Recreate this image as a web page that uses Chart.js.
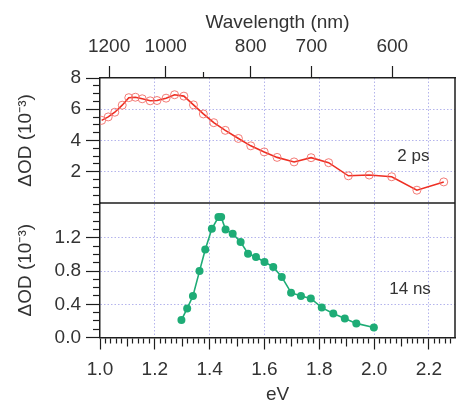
<!DOCTYPE html>
<html>
<head>
<meta charset="utf-8">
<script src="https://cdn.jsdelivr.net/npm/chart.js@4/dist/chart.umd.min.js"></script>
<style>
  html, body { margin: 0; padding: 0; background: #fff; }
  #c { display: block; }
</style>
</head>
<body>
<canvas id="c" width="460" height="405"></canvas>
<script>
// Transient absorption spectra: photon energy (eV) against ΔOD (10^-3)
const energy2ps = [1.006, 1.030, 1.054, 1.081, 1.105, 1.129, 1.154, 1.183, 1.208, 1.241,
                   1.272, 1.306, 1.341, 1.377, 1.415, 1.457, 1.505, 1.550, 1.599, 1.646,
                   1.708, 1.770, 1.834, 1.906, 1.982, 2.064, 2.156, 2.254];
const deltaOD2ps = [5.29, 5.51, 5.81, 6.26, 6.74, 6.77, 6.67, 6.54, 6.56, 6.71,
                    6.93, 6.84, 6.28, 5.70, 5.14, 4.65, 4.13, 3.66, 3.27, 2.92,
                    2.63, 2.90, 2.58, 1.74, 1.79, 1.68, 0.82, 1.35];

const energy14ns = [1.297, 1.318, 1.339, 1.363, 1.384, 1.408, 1.432, 1.442, 1.458, 1.484,
                    1.513, 1.540, 1.569, 1.600, 1.632, 1.663, 1.697, 1.733, 1.769, 1.809,
                    1.851, 1.893, 1.935, 1.999];
const deltaOD14ns = [0.21, 0.35, 0.50, 0.80, 1.06, 1.31, 1.45, 1.45, 1.30, 1.25,
                     1.15, 1.01, 0.97, 0.91, 0.85, 0.73, 0.54, 0.50, 0.47, 0.36,
                     0.29, 0.23, 0.17, 0.12];

const energyTickLabels = [1.0, 1.2, 1.4, 1.6, 1.8, 2.0, 2.2];
const wavelengthTicks = [1200, 1000, 800, 700, 600];
const wavelengthMinorTicks = [900];
const topPanelTicks = [2, 4, 6, 8];
const bottomPanelTicks = [0.0, 0.4, 0.8, 1.2];
const panelLabels = ['2 ps', '14 ns'];

const HC = 1239.84;            // eV·nm, converts wavelength to photon energy
const E_MIN = 1.0, E_MAX = 2.295;

const FONT = '"Liberation Sans", Arial, Helvetica, sans-serif';
const TEXT = '#333333';
const AXIS = '#1e1e1e';
const GRID = '#b4b4ec';
const RED = 'rgb(238, 46, 34)';
const RED_MARK = 'rgba(242, 110, 104, 0.9)';
const GREEN = 'rgb(30, 172, 118)';
const NONE = 'rgba(0,0,0,0)';

function stepTicks(min, max, step) {
  const out = [];
  const n = Math.round((max - min) / step);
  for (let i = 0; i <= n; i++) out.push(+(min + i * step).toFixed(4));
  return out;
}
const isOn = (v, list) => list.some(t => Math.abs(t - v) < 1e-6);
const toPoints = (xs, ys) => xs.map((x, i) => ({ x, y: ys[i] }));

// outward tick marks: ticks on left/top axes are drawn from the outer end toward the axis
function tickDash(isMajor, len, full, fromAxis) {
  if (isMajor) return [];
  return fromAxis ? [len, 60] : [len, full - len];
}

const titleFont = { size: 19, family: FONT, lineHeight: 1 };
const tickFont = { size: 19, family: FONT };
const axisBorder = { color: AXIS, width: 1.5, dash: [1.5, 2] };

// draws the closing frame: right edge and the line between the panels
const framePlugin = {
  id: 'frame',
  beforeDatasetsDraw(chart) {
    const { ctx, chartArea: a, scales } = chart;
    ctx.save();
    ctx.strokeStyle = AXIS;
    ctx.lineWidth = 1.5;
    ctx.setLineDash([]);
    ctx.beginPath();
    ctx.moveTo(a.right, a.top);
    ctx.lineTo(a.right, a.bottom);
    const ySep = scales.yTop.getPixelForValue(0);
    ctx.moveTo(a.left, ySep);
    ctx.lineTo(a.right, ySep);
    ctx.stroke();
    ctx.restore();
  }
};

// delay-time labels inside each panel
const panelLabelPlugin = {
  id: 'panelLabels',
  afterDatasetsDraw(chart) {
    const { ctx, scales } = chart;
    ctx.save();
    ctx.fillStyle = TEXT;
    ctx.font = '17px ' + FONT;
    ctx.textAlign = 'center';
    ctx.textBaseline = 'middle';
    ctx.fillText(panelLabels[0], scales.x.getPixelForValue(2.143), scales.yTop.getPixelForValue(3.0));
    ctx.fillText(panelLabels[1], scales.x.getPixelForValue(2.131), scales.yBot.getPixelForValue(0.584));
    ctx.restore();
  }
};

new Chart(document.getElementById('c'), {
  type: 'line',
  data: {
    datasets: [
      {
        label: '2 ps',
        data: toPoints(energy2ps, deltaOD2ps),
        xAxisID: 'x',
        yAxisID: 'yTop',
        borderColor: RED,
        borderWidth: 1.6,
        pointRadius: 4,
        pointBorderWidth: 1,
        pointBorderColor: RED_MARK,
        pointBackgroundColor: 'rgba(255,255,255,0)',
        tension: 0
      },
      {
        label: '14 ns',
        data: toPoints(energy14ns, deltaOD14ns),
        xAxisID: 'x',
        yAxisID: 'yBot',
        borderColor: GREEN,
        borderWidth: 1.6,
        pointRadius: 4,
        pointBorderWidth: 0,
        pointBackgroundColor: GREEN,
        tension: 0
      }
    ]
  },
  options: {
    responsive: false,
    animation: false,
    devicePixelRatio: 1,
    layout: { padding: { left: 0, right: 2, top: 0, bottom: 0 } },
    plugins: { legend: { display: false }, tooltip: { enabled: false } },
    scales: {
      x: {
        type: 'linear',
        position: 'bottom',
        min: E_MIN,
        max: E_MAX,
        afterBuildTicks: s => { s.ticks = stepTicks(1.0, 2.28, 0.02).map(v => ({ value: v })); },
        afterFit: s => { s.height = 67.5; },
        border: axisBorder,
        grid: {
          color: c => (isOn(c.tick.value, energyTickLabels) && c.tick.value > 1.001) ? GRID : NONE,
          lineWidth: 1,
          tickLength: 12,
          tickWidth: 1.2,
          tickColor: AXIS,
          tickBorderDash: c => {
            const v = c.tick.value;
            if (isOn(v, energyTickLabels)) return [];
            const mid = Math.abs(v * 10 - Math.round(v * 10)) < 1e-6;
            return tickDash(false, mid ? 8 : 5, 12, true);
          }
        },
        ticks: {
          autoSkip: false,
          maxRotation: 0,
          padding: 9,
          color: TEXT,
          font: tickFont,
          callback: v => isOn(v, energyTickLabels) ? v.toFixed(1) : ''
        },
        title: { display: true, text: 'eV', color: TEXT, font: titleFont, padding: { top: 0, bottom: 0.5 } }
      },
      x2: {
        type: 'linear',
        position: 'top',
        min: E_MIN,
        max: E_MAX,
        afterBuildTicks: s => {
          s.ticks = wavelengthTicks.concat(wavelengthMinorTicks).map(nm => ({ value: HC / nm }));
        },
        afterFit: s => { s.height = 78; },
        border: axisBorder,
        grid: {
          drawOnChartArea: false,
          tickLength: 12,
          tickWidth: 1.2,
          tickColor: AXIS,
          tickBorderDash: c => {
            const nm = Math.round(HC / c.tick.value);
            return tickDash(wavelengthTicks.includes(nm), 6, 12, false);
          },
          tickBorderDashOffset: 6
        },
        ticks: {
          autoSkip: false,
          maxRotation: 0,
          padding: 7.5,
          color: TEXT,
          font: tickFont,
          callback: v => {
            const nm = Math.round(HC / v);
            return wavelengthTicks.includes(nm) ? String(nm) : '';
          }
        },
        title: { display: true, text: 'Wavelength (nm)', color: TEXT, font: titleFont, padding: { top: 13, bottom: 0 } }
      },
      yBot: {
        type: 'linear',
        position: 'left',
        stack: 'panels',
        stackWeight: 134.5,
        min: 0,
        max: 1.62,
        afterBuildTicks: s => { s.ticks = stepTicks(0, 1.6, 0.1).map(v => ({ value: v })); },
        afterFit: s => { s.width = 100; },
        border: axisBorder,
        grid: {
          color: c => (isOn(c.tick.value, bottomPanelTicks) && c.tick.value > 0.001) ? GRID : NONE,
          lineWidth: 1,
          tickLength: 14,
          tickWidth: 1.2,
          tickColor: AXIS,
          tickBorderDash: c => tickDash(isOn(c.tick.value, bottomPanelTicks), 7, 14, false),
          tickBorderDashOffset: 7
        },
        ticks: {
          autoSkip: false,
          padding: 5,
          color: TEXT,
          font: tickFont,
          callback: v => isOn(v, bottomPanelTicks) ? v.toFixed(1) : ''
        },
        title: { display: true, text: 'ΔOD (10⁻³)', color: TEXT, font: { size: 19, family: FONT, lineHeight: 1.2 }, padding: { top: 14, bottom: 0 } }
      },
      yTop: {
        type: 'linear',
        position: 'left',
        stack: 'panels',
        stackWeight: 125,
        min: 0,
        max: 8,
        afterBuildTicks: s => { s.ticks = stepTicks(0, 8, 0.5).map(v => ({ value: v })); },
        afterFit: s => { s.width = 100; },
        border: axisBorder,
        grid: {
          color: c => isOn(c.tick.value, [2, 4, 6]) ? GRID : NONE,
          lineWidth: 1,
          tickLength: 14,
          tickWidth: 1.2,
          tickColor: c => c.tick.value === 0 ? NONE : AXIS,
          tickBorderDash: c => tickDash(isOn(c.tick.value, topPanelTicks), 7, 14, false),
          tickBorderDashOffset: 7
        },
        ticks: {
          autoSkip: false,
          padding: 5,
          color: TEXT,
          font: tickFont,
          callback: v => isOn(v, topPanelTicks) ? String(v) : ''
        },
        title: { display: true, text: 'ΔOD (10⁻³)', color: TEXT, font: { size: 19, family: FONT, lineHeight: 1.2 }, padding: { top: 14, bottom: 0 } }
      }
    }
  },
  plugins: [framePlugin, panelLabelPlugin]
});
</script>
</body>
</html>
